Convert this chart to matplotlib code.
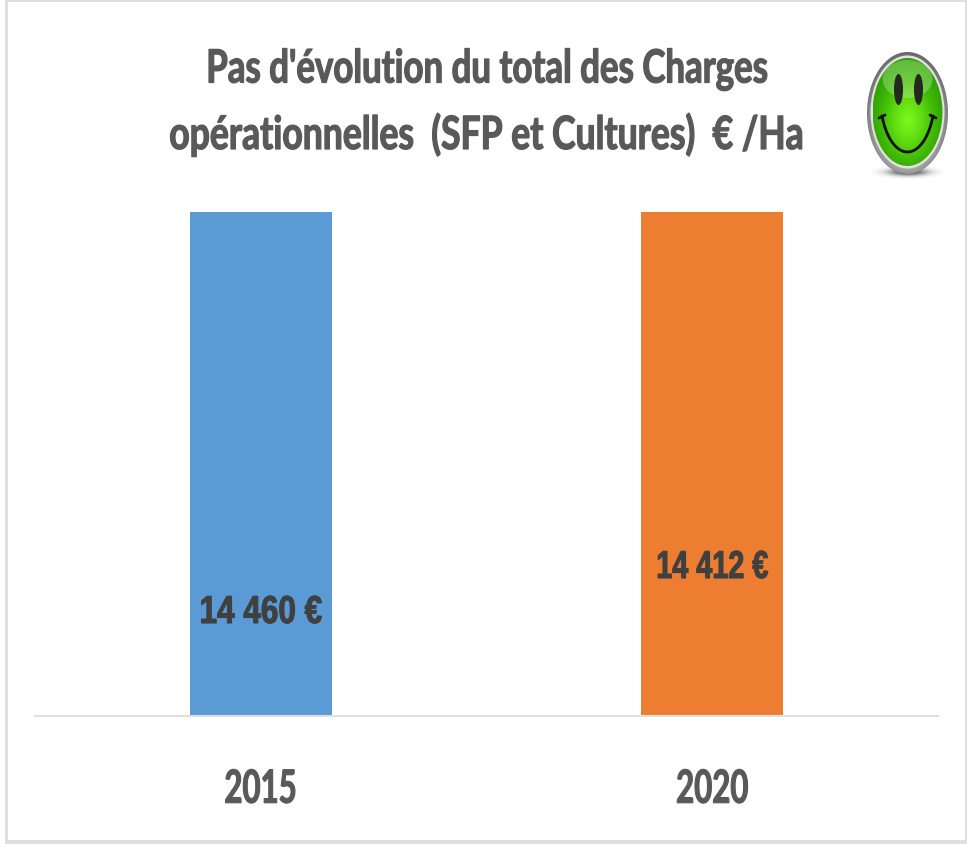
import numpy as np
import matplotlib
matplotlib.use("Agg")
import matplotlib.pyplot as plt
from matplotlib.patches import Ellipse, Rectangle
from matplotlib.patheffects import AbstractPathEffect
from matplotlib.transforms import Affine2D
from matplotlib.colors import LinearSegmentedColormap

years = ["2015", "2020"]
values = [14460, 14412]
value_labels = ["14 460 €", "14 412 €"]
bar_colors = ["#5B9BD5", "#ED7D31"]
title_lines = ["Pas d'évolution du total des Charges",
               "opérationnelles  (SFP et Cultures)  € /Ha"]

W, H = 967, 845


# the reference text is very condensed and no narrow font is installed
class SqueezeX(AbstractPathEffect):
    def __init__(self, sx, stroke=0.0):
        super().__init__()
        self.sx = sx
        self.stroke = stroke

    def draw_path(self, renderer, gc, tpath, affine, rgbFace=None):
        box = tpath.transformed(affine).get_extents()
        cx = (box.x0 + box.x1) / 2
        squeeze = Affine2D().translate(-cx, 0).scale(self.sx, 1).translate(cx, 0)
        gc0 = renderer.new_gc()
        gc0.copy_properties(gc)
        gc0.set_linewidth(self.stroke)
        gc0.set_foreground(rgbFace)
        renderer.draw_path(gc0, tpath, affine + squeeze, rgbFace)
        gc0.restore()


fig = plt.figure(figsize=(W / 100, H / 100), dpi=100, facecolor="white")

# frame, pixel coords
bg = fig.add_axes([0, 0, 1, 1], zorder=0)
bg.set_xlim(0, W)
bg.set_ylim(H, 0)
bg.axis("off")
bg.add_patch(Rectangle((5, 0), 962, 845, fc="#DFDFDF", ec="none"))
bg.add_patch(Rectangle((7.5, 2.5), 957.5, 838.5, fc="white", ec="none"))

ax = fig.add_axes([35 / W, 1 - 717 / H, 903 / W, 504 / H], zorder=1)
ax.bar(years, values, width=0.315, color=bar_colors)
ax.set_xlim(-0.5, 1.5)
ax.set_ylim(0, 14400)
ax.patch.set_alpha(0)
for s in ["top", "left", "right"]:
    ax.spines[s].set_visible(False)
ax.spines["bottom"].set_color("#DEDEDE")
ax.spines["bottom"].set_linewidth(1.5)
ax.set_yticks([])
ax.tick_params(axis="x", length=0, pad=38)
for lab in ax.get_xticklabels():
    lab.set_fontfamily("Lato")
    lab.set_fontweight("bold")
    lab.set_fontsize(33)
    lab.set_color("#595959")
    lab.set_path_effects([SqueezeX(0.68, 0.8)])

label_base = [(717 - 624) / 504, (717 - 579) / 504]
label_sx = [0.81, 0.74]
for i, txt in enumerate(value_labels):
    ax.text(i, label_base[i], txt, transform=ax.get_xaxis_transform(), ha="center", va="baseline",
            fontsize=28, fontweight="bold", fontfamily="Liberation Sans", color="#404040",
            path_effects=[SqueezeX(label_sx[i], 0.8)])

# title and smiley on top, pixel coords again
top = fig.add_axes([0, 0, 1, 1], zorder=2)
top.axis("off")
top.text(487, 83.5, title_lines[0], ha="center", va="baseline", fontsize=33, fontweight="bold",
         family="Lato", color="#595959", path_effects=[SqueezeX(0.76, 0.9)])
top.text(487, 150, title_lines[1], ha="center", va="baseline", fontsize=33, fontweight="bold",
         family="Lato", color="#595959", path_effects=[SqueezeX(0.775, 0.9)])

# shadow under the smiley
gx, gy = np.meshgrid(np.linspace(-1, 1, 120), np.linspace(-1, 1, 40))
shadow = np.zeros((40, 120, 4))
shadow[..., 3] = 0.75 * np.exp(-(gx ** 2 * 4 + gy ** 2 * 6))
top.imshow(shadow, extent=(870, 946, 182, 164), aspect="auto", zorder=1)


def radial(cx, cy, w, h, colors, z, fx=0.0, fy=0.0):
    # soft disc, clipped to its ellipse
    u, v = np.meshgrid(np.linspace(-1, 1, 160), np.linspace(-1, 1, 200))
    r = np.clip(np.hypot(u - fx, v - fy) / 1.15, 0, 1)
    cmap = LinearSegmentedColormap.from_list("g", colors)
    im = top.imshow(r, cmap=cmap, vmin=0, vmax=1, aspect="auto", zorder=z,
                    extent=(cx - w / 2, cx + w / 2, cy + h / 2, cy - h / 2), interpolation="bilinear")
    clip = Ellipse((cx, cy), w, h, transform=top.transData)
    im.set_clip_path(clip)


radial(907.5, 114, 81, 122, ["#9A9A9A", "#8A8A8A", "#B5B5B5", "#5A5A5A"], 2, fy=0.1)
top.add_patch(Ellipse((907.5, 113), 74, 113, fc="#E2E2E2", ec="none", zorder=3))
radial(907.5, 113, 70, 108, ["#7CF91C", "#62DE12", "#3FB806", "#2E9C02"], 4, fy=0.15)
top.add_patch(Ellipse((907.5, 80), 50, 38, fc="#C8EFB0", ec="none", alpha=0.35, zorder=5))
top.add_patch(Ellipse((898.5, 90.5), 9, 31, fc="#23291F", ec="none", zorder=6))
top.add_patch(Ellipse((918.5, 90.5), 9, 31, fc="#23291F", ec="none", zorder=6))
tt = np.linspace(0.12 * np.pi, 0.88 * np.pi, 60)
top.plot(907.5 + 27.4 * np.cos(tt), 96 + 57 * np.sin(tt), color="#101010", lw=2.0,
         solid_capstyle="round", zorder=6)
top.plot([879, 885], [119, 116], color="#101010", lw=2.0, solid_capstyle="round", zorder=6)
top.plot([930, 936], [116, 119], color="#101010", lw=2.0, solid_capstyle="round", zorder=6)

top.set_xlim(0, W)
top.set_ylim(H, 0)

fig.savefig("out.png", dpi=100)
